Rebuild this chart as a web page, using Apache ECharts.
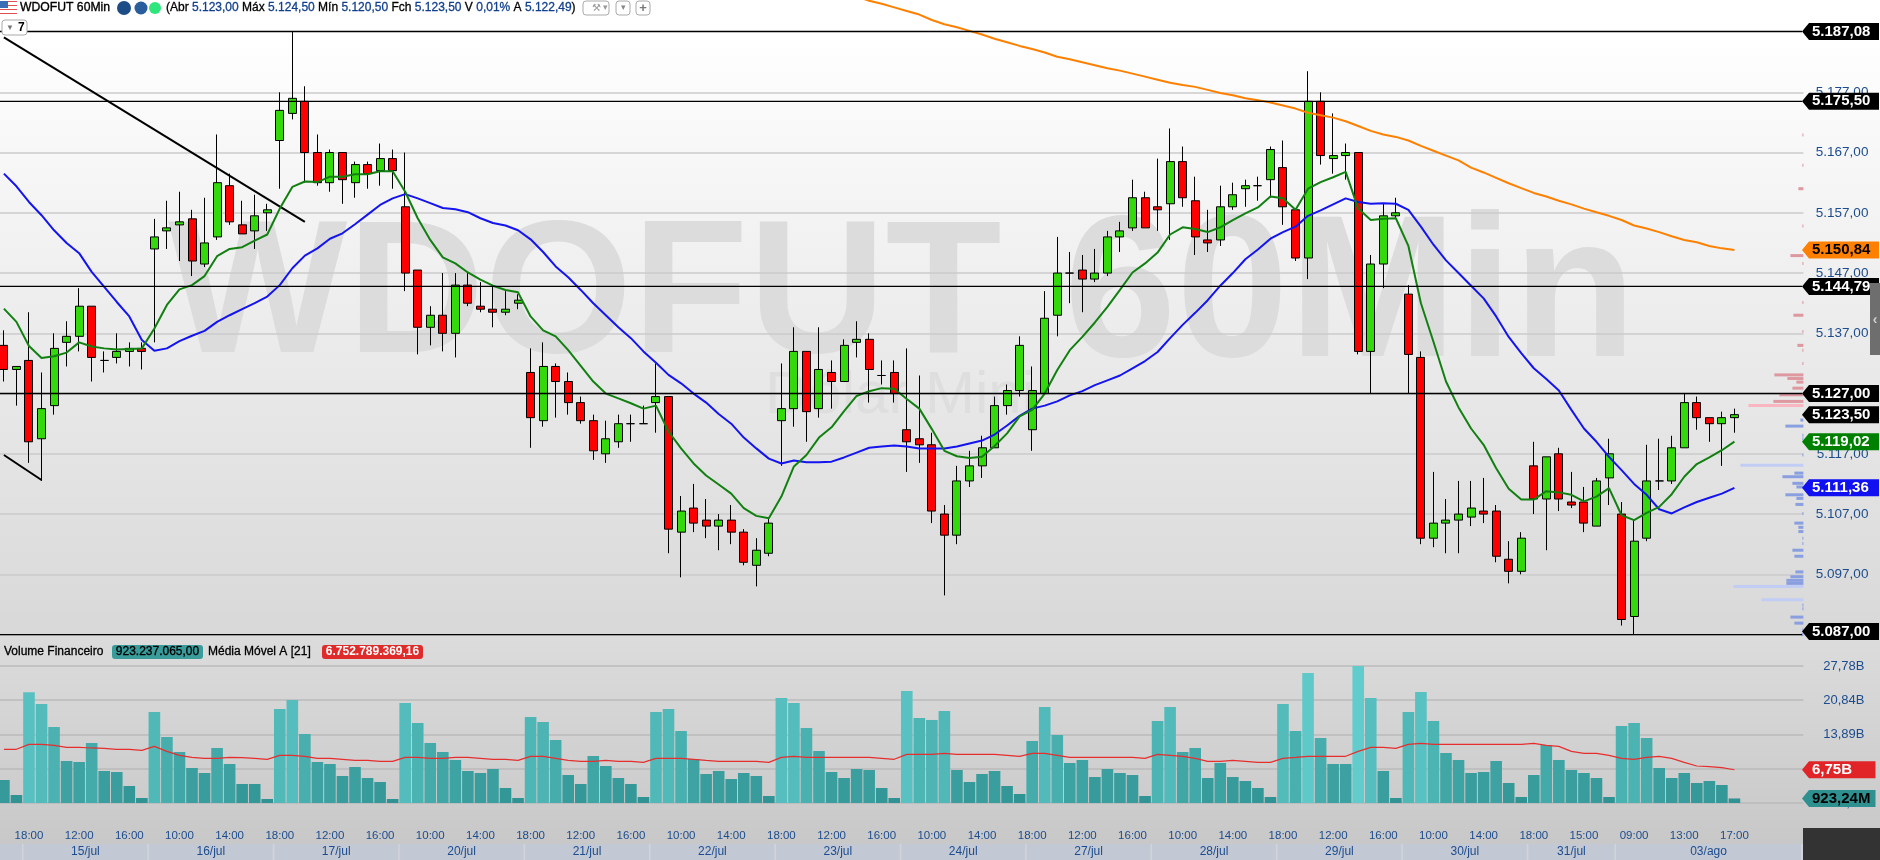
<!DOCTYPE html>
<html><head><meta charset="utf-8"><title>WDOFUT 60Min</title>
<style>html,body{margin:0;padding:0;background:#fff;overflow:hidden;width:1880px;height:860px}#c{position:absolute;left:-4px;top:0;width:1884px;height:860px}</style>
<script src="https://cdn.jsdelivr.net/npm/echarts@6/dist/echarts.min.js"></script></head>
<body><div id="c"></div><script>
const opens=[5135,5131,5132.5,5119.5,5125,5135.5,5136.5,5141.5,5132.5,5133,5134,5134.5,5151,5154,5155,5156,5148.5,5153,5161.5,5155,5154,5157,5169,5173.5,5175.5,5167,5162,5167,5162,5165,5164,5166,5158,5147.5,5138,5140,5137,5145,5141.5,5141,5140.5,5142,5130.5,5122.5,5131.5,5129,5125.5,5122.5,5117,5119,5122,5122,5125.5,5126.5,5104,5108,5106,5105,5106,5104,5098.5,5100.5,5122.5,5124.5,5134,5124.5,5130.5,5129,5135.5,5136,5130,5130.5,5121,5119.5,5118.5,5107,5103.5,5112.5,5115,5118,5125,5127.5,5121,5127,5140,5147,5147.5,5146,5147,5153,5154.5,5159.5,5158,5158.5,5165.5,5159,5152.5,5152.5,5158,5161,5161.5,5162.5,5164.5,5157.5,5149.5,5175.5,5166,5166.5,5167,5134,5148.5,5156.5,5143.5,5133,5103,5105.5,5106,5106.5,5107.5,5107.5,5099.5,5097.5,5115,5109.5,5117,5109,5109,5105,5113,5107,5090,5103,5112.5,5112.5,5118,5125.5,5123,5122,5123];
const closes=[5131,5131.5,5119,5124.5,5134.5,5136.5,5141.5,5133,5132.5,5134,5134.5,5134,5153,5154.5,5155.5,5149,5152,5162,5155.5,5153.5,5156.5,5157.5,5174,5176,5167,5162,5167,5162.5,5165,5163.5,5166,5164,5147,5138,5140,5137,5145,5142,5141,5140.5,5141,5142.5,5123,5131.5,5129,5125.5,5122.5,5117.5,5119.5,5122,5122,5122,5126.5,5104.5,5107.5,5105.5,5105,5106,5104,5099,5101,5105.5,5124.5,5134,5124,5131,5129,5135,5136,5131,5130,5127,5119,5118.5,5107.5,5103.5,5112.5,5115,5118,5125,5127.5,5135,5127.5,5139.5,5147,5147,5146,5147,5153,5154,5159.5,5154.5,5157.5,5165.5,5159.5,5153,5152,5158,5160,5161.5,5161.5,5167.5,5158,5149.5,5175.5,5166.5,5166.5,5167,5134,5148.5,5156.5,5157,5133.5,5103,5105.5,5106,5107,5108,5107,5100,5097.5,5103,5109.5,5116.5,5109.5,5108.5,5105.5,5112.5,5117,5089.5,5102.5,5112.5,5112.5,5118,5125.5,5123,5122,5123,5123.5];
const lows=[5129,5125,5115.5,5112.5,5123.5,5131.5,5134,5129,5130.5,5132,5131.5,5131,5135.5,5151,5149,5146.5,5148,5152.5,5155,5153.5,5151,5154,5161,5172.5,5162,5161.5,5160.5,5158.5,5159.5,5161,5161.5,5161,5144,5133.5,5135,5134,5133,5141.5,5140.5,5138,5140,5141,5118,5121.5,5123,5123.5,5122,5116,5115.5,5118,5119,5122,5120.5,5100.5,5096.5,5104,5103,5101,5102,5098.5,5095,5100,5115,5121.5,5119,5123,5124.5,5129,5133,5125.5,5128.5,5125.5,5114,5115.5,5105.5,5093.5,5102,5111.5,5113,5118,5123.5,5126.5,5117.5,5127,5136.5,5142,5140.5,5145.5,5146.5,5150.5,5154,5154.5,5154,5152.5,5158,5150,5150.5,5151.5,5157.5,5158,5159,5159.5,5155,5149,5146,5165,5163.5,5162.5,5133.5,5127,5144.5,5156,5127,5102,5101.5,5100.5,5100.5,5105,5105.5,5099,5095.5,5097,5107,5101,5107.5,5108,5104,5105,5108.5,5088.5,5087,5102.5,5111,5112,5118,5121,5119,5115,5120.5];
const highs=[5137.5,5131.5,5140.5,5130.5,5137,5139,5144.5,5141.5,5134,5137,5135.5,5135.5,5156,5159,5160.5,5157.5,5159.5,5170,5163.5,5159,5160,5158.5,5177,5187,5178,5170,5167.5,5167,5165.5,5165.5,5168.5,5167.5,5167,5147.5,5141.5,5147,5147,5147,5145.5,5145,5144,5143.5,5134.5,5135.5,5132,5130.5,5126.5,5123.5,5122.5,5123.5,5123.5,5125,5132,5126.5,5110,5112,5109.5,5107,5108.5,5104.5,5103,5106.5,5132,5138,5134,5138,5132.5,5136,5139,5137,5132.5,5132.5,5134.5,5130,5120.5,5108.5,5115,5117.5,5120,5126.5,5128.5,5136.5,5131.5,5144,5153,5150.5,5150,5151,5154,5155.5,5162.5,5160.5,5166,5171,5168,5163,5157.5,5161.5,5162,5162.5,5163,5168,5169,5157.5,5180.5,5177,5173.5,5168.5,5167,5150,5158.5,5159.5,5145,5134,5114,5109.5,5112.5,5112.5,5113,5108.5,5102.5,5104,5119,5116.5,5118,5114,5111.5,5113,5119.5,5109,5106,5118.5,5119.5,5120,5127,5126.5,5123,5124,5124.5];
const emaFast=[5141.1,5138.9,5134.9,5132.9,5133.2,5133.8,5135.5,5134.8,5134.5,5134.3,5134.4,5134.5,5137.8,5141.7,5144.3,5145,5146.5,5149.8,5151,5151.3,5152.4,5153.4,5157.7,5161.3,5162.2,5162.1,5163,5163,5163.4,5163.4,5163.9,5163.9,5160.5,5156.1,5152.5,5149.6,5148.6,5147.1,5145.9,5144.9,5144.2,5143.8,5139.8,5137.5,5136.5,5134.2,5131.6,5129,5127,5126.2,5125.4,5124.5,5125,5120.7,5117.9,5115.4,5113.4,5111.9,5110.4,5108,5106.7,5106.3,5109.9,5114.9,5116.8,5119.7,5121.4,5124.1,5126.6,5127.4,5127.9,5127.8,5126.1,5124.5,5121.1,5117.5,5116.6,5116.3,5116.5,5118.3,5120.4,5123.2,5124.3,5127,5130.9,5134.2,5136.4,5138.8,5141.4,5144.2,5147.1,5148.6,5150.4,5153.4,5154.6,5154.3,5153.8,5154.6,5155.8,5156.9,5157.9,5159.7,5159.4,5157.5,5161,5162.1,5162.9,5163.8,5157.7,5155.8,5156,5156.1,5151.5,5142,5135.6,5129,5124.7,5121.2,5118.5,5114.6,5111.2,5109.4,5109.4,5110.8,5110.6,5110.2,5109.1,5109.9,5111.3,5106.8,5106,5107.2,5108.2,5110.3,5113.2,5115.3,5116.4,5117.6,5119.02];
const emaMid=[5163.5,5161.4,5158.8,5156.6,5154.1,5152,5150.3,5147.2,5144.7,5142.2,5139.8,5135.9,5134.1,5134.5,5135.7,5136.6,5137.4,5138.9,5140,5141,5142,5143.1,5145,5147.8,5149.9,5151.1,5152.7,5153.6,5155.1,5156.7,5158.3,5159.4,5160.1,5159.4,5158.6,5157.8,5157.6,5157.1,5156.1,5155.3,5154.9,5154.1,5152.6,5150.5,5148.1,5146.3,5144.2,5142,5140,5138,5136.2,5134,5132.1,5130.1,5128.7,5127,5125.5,5123.6,5122,5119.7,5117.9,5116.2,5115.4,5115.9,5115.6,5115.6,5115.7,5116.4,5117.2,5118,5118.2,5118.4,5118.2,5117.9,5117.9,5117.9,5118.2,5118.7,5119.2,5120.2,5121.7,5123.3,5124.5,5125,5125.7,5126.7,5127.4,5128.4,5129.2,5130,5131.2,5132.4,5133.9,5136.2,5138.4,5140.4,5142.5,5144.9,5147,5149.3,5150.9,5152.7,5153.8,5154.7,5156.5,5157.4,5158.4,5159.4,5158.8,5158.5,5158.6,5158.5,5157.5,5154.7,5151.7,5149.1,5147,5144.9,5142.8,5139.8,5136.4,5133.7,5131.2,5129.4,5127.5,5124.3,5121.2,5119,5116.5,5114.3,5112,5110.2,5107.8,5107.1,5108.1,5109,5109.7,5110.4,5111.36];
const emaSlowStart=68;
const emaSlow=[5192.9,5192.2,5191.7,5191.1,5190.5,5189.9,5189,5188.3,5187.8,5187.2,5186.6,5185.9,5185.3,5184.7,5184.2,5183.6,5182.9,5182.5,5182,5181.5,5181,5180.6,5180.1,5179.6,5179.1,5178.6,5178.2,5177.9,5177.4,5176.9,5176.5,5176,5175.7,5175.3,5174.8,5174.3,5173.6,5173.2,5172.8,5172.2,5171.4,5170.6,5170,5169.6,5169,5168.1,5167.3,5166.5,5165.7,5164.5,5163.7,5162.8,5161.9,5161.1,5160.3,5159.7,5159,5158.4,5157.7,5157.1,5156.5,5155.8,5154.9,5154.4,5153.8,5153.1,5152.5,5152.1,5151.5,5151.1,5150.84];
const volumes=[4.67,1.62,22.45,20.08,15.42,8.52,8.32,12.17,6.49,6.29,3.45,1.01,18.46,13.39,10.34,7.1,6.09,11.16,7.91,3.85,3.85,.81,19.07,20.89,14,8.32,7.91,5.48,7.3,5.07,4.26,.81,20.28,16.23,12.17,10.34,8.72,6.49,6.09,6.9,3.04,1.01,17.44,16.43,12.78,5.68,3.85,9.53,7.51,5.07,3.85,1.22,18.46,19.07,14.6,8.92,5.88,6.49,4.87,6.09,5.48,1.42,21.3,20.28,15.21,10.55,6.29,5.07,6.9,6.69,3.04,1.01,22.72,17.24,16.84,18.66,6.69,4.26,5.88,6.49,3.45,1.83,12.58,19.47,13.79,8.11,8.72,5.27,6.9,6.09,5.68,1.42,16.63,19.47,10.34,11.16,5.07,8.11,5.27,4.46,3.04,1.22,20.08,14.6,26.37,13.18,7.91,7.91,27.79,21.3,6.49,1.01,18.46,22.52,16.63,10.14,8.72,6.09,6.29,8.52,4.06,1.22,5.68,11.76,8.72,6.69,6.09,5.07,1.22,15.62,16.23,13.18,7.1,5.07,6.09,4.06,4.46,3.65,.92];
const volumeMA=[10.89,10.89,11.9,11.9,11.7,11.29,11.29,11.16,11.09,10.89,10.89,10.68,11.49,10.48,9.67,9.26,9.06,9.06,9.26,9.2,9.06,8.86,9.67,9.67,9.47,9.06,9.06,8.86,8.65,8.65,8.45,8.45,9.26,9.26,9.06,9.06,9.26,9.26,9.06,8.86,8.86,8.65,9.47,9.47,9.06,8.65,8.45,8.45,8.65,8.45,8.45,8.25,9.06,9.06,9.06,8.86,8.65,8.45,8.45,8.45,8.45,8.25,9.26,9.47,9.26,9.26,9.26,9.26,9.26,9.26,9.06,8.86,9.87,9.87,9.87,10.07,9.87,9.87,9.87,9.87,9.67,9.47,10.07,10.07,9.67,9.26,9.26,9.26,9.26,9.26,9.26,9.06,9.87,9.67,9.47,9.06,8.45,8.45,8.65,8.45,8.25,8.25,9.06,9.26,9.47,9.47,9.47,9.47,10.48,11.29,11.29,11.09,11.9,12.1,11.9,11.9,11.9,11.9,11.9,11.9,11.9,11.9,12.1,11.7,11.49,10.48,10.07,10.07,9.67,9.06,8.86,9.26,9.47,9.06,8.25,7.5,7.37,7.17,6.75];
const timeLabels=['18:00','12:00','16:00','10:00','14:00','18:00','12:00','16:00','10:00','14:00','18:00','12:00','16:00','10:00','14:00','18:00','12:00','16:00','10:00','14:00','18:00','12:00','16:00','10:00','14:00','18:00','12:00','16:00','10:00','14:00','18:00','15:00','09:00','13:00','17:00'];
const dayStarts=[0,2,12,22,32,42,52,62,72,82,92,102,112,122,129];
const dayBars=[2,10,10,10,10,10,10,10,10,10,10,10,10,7,15];
const dayLabels=['','15/jul','16/jul','17/jul','20/jul','21/jul','22/jul','23/jul','24/jul','27/jul','28/jul','29/jul','30/jul','31/jul','03/ago'];
const priceTicks=[5177,5167,5157,5147,5137,5127,5117,5107,5097,5087];
const volumeTicks=[27.78,20.84,13.89,6.945,0];
const levels=[5187.08,5175.5,5144.79,5127,5087];
const priceTags=[5187.08,5175.5,5150.84,5144.79,5127,5123.5,5119.02,5111.36,5087];
const priceTagColors=['#000','#000','#ff8000','#000','#000','#000','#008000','#1010f0','#000'];
const priceTagText=['#fff','#fff','#000','#fff','#fff','#fff','#fff','#fff','#fff'];
const volumeTags=[6.75,.92324];
const volumeTagLabels=['6,75B','923,24M'];
const volumeTagColors=['#e02428','#2f9090'];
const volumeTagText=['#fff','#000'];
const trendA=[[0,5186.1],[24,5155.5]];
const trendB=[[0,5116.8],[3,5112.65]];
const profilePrice=[5169.9,5164.9,5161,5154.8,5149.9,5148.6,5142.1,5140,5137.3,5135,5134.2,5132,5130.1,5129.5,5128.9,5127.9,5126.8,5125.7,5125,5122.6,5121.6,5120.1,5119.5,5116.8,5115.1,5113.8,5113.2,5112.1,5111.5,5110.2,5109.6,5108.6,5107.1,5105.5,5104.8,5104.1,5103,5102.1,5101,5100,5097.4,5096.6,5096,5095.5,5095,5092.8,5091.9,5091.3,5089.9,5088.9,5087.8,5087];
const profileVolume=[1,1,5,1,13,1,1,10,1,6,1,1,29,16,7,11,24,30,55,3,18,1,1,1,63,9,21,11,7,18,7,8,1,9,5,5,1,1,11,9,8,13,17,17,70,42,1,1,13,9,1,2];

const fmtPrice=v=>{const s=v.toFixed(2).replace('.',',');return s.slice(0,1)+'.'+s.slice(1);};
const DX=4,BAND=12.54,N=144,GL=1.63,BLUE='#1c4c8e',FF='"Liberation Sans",Arial,sans-serif';
const cats=Array.from({length:N},(_,i)=>(i>=2&&i<=138&&(i-2)%4===0)?timeLabels[(i-2)/4]:'');
const candles=opens.map((o,i)=>[o,closes[i],lows[i],highs[i]]);
const mix=v=>{const t=Math.min(1,v/27.78),a=[46,144,144],b=[98,204,204];return 'rgb('+a.map((x,k)=>Math.round(x+(b[k]-x)*t)).join(',')+')';};
const lineS=(name,data,color,w,xi,yi,z)=>({name,type:'line',xAxisIndex:xi,yAxisIndex:yi,data,showSymbol:false,symbol:'none',z,silent:true,lineStyle:{color,width:w}});
const tag=(y,txt,bg,fg,right)=>({type:'group',x:DX,children:[
 {type:'polygon',shape:{points:[[1802,y],[1809,y-8.5],[right,y-8.5],[right,y+8.5],[1809,y+8.5]]},style:{fill:bg}},
 {type:'text',style:{x:1812,y,text:txt,fill:fg,font:'bold 15px '+FF,verticalAlign:'middle',align:'left'}}]});

const R=(x,y,w,h,fill,z,extra)=>Object.assign({type:'rect',shape:{x,y,width:w,height:h},style:{fill},z,silent:true},extra||{});
const grad=(a,b)=>({type:'linear',x:0,y:0,x2:0,y2:1,colorStops:[{offset:0,color:a},{offset:1,color:b}]});
const T=(x,y,text,font,fill,z,align,heavy)=>({type:'text',x,y,z,silent:true,style:Object.assign({text,font,fill,align:align||'left',verticalAlign:'middle'},heavy?{stroke:fill,lineWidth:heavy}:{})});
const stripes=[];for(let k=0;k<7;k++)stripes.push(R(0,1+k*2,17,1,k%2?'#fff':'#e05050',9));
const btn=(x,y,w,h)=>({type:'rect',shape:{x,y,width:w,height:h,r:3},z:9,silent:true,style:{fill:'#fff',stroke:'#aaaaaa',lineWidth:1}});

const elements=[
 R(0,0,1880,33,'#ffffff',-10),
 R(0,33,1880,603,grad('#ffffff','#d8d8d8'),-10),
 R(0,636,1880,208,grad('#dcdcdc','#c8c8c8'),-10),
 R(0,844,1880,16,'#d2d4da',-10),
 T(168,300,'WDOFUT','bold 190px '+FF,'#dcdcdc',-5),
 T(1064,300,'60Min','bold 202px '+FF,'#dcdcdc',-5),
 T(765,396,'Dólar Mini','60px '+FF,'#dedede',-5),
 ...stripes,
 R(0,1,8,7,'#3b6fb5',9),
 T(20,8,'WDOFUT 60Min','12.2px '+FF,'#000',9,'left',0.35),
 {type:'circle',shape:{cx:124,cy:8,r:7},style:{fill:'#1d4c86'},z:9,silent:true},
 {type:'circle',shape:{cx:141,cy:8,r:6.5},style:{fill:'#2a5d9c'},z:9,silent:true},
 {type:'circle',shape:{cx:155,cy:8,r:6},style:{fill:'#2ee67e'},z:9,silent:true},
 {type:'text',x:166,y:8,z:9,silent:true,style:{verticalAlign:'middle',font:'12px '+FF,rich:{k:{fill:'#000',stroke:'#000',lineWidth:0.3,font:'12px '+FF},v:{fill:'#123f8c',stroke:'#123f8c',lineWidth:0.3,font:'12px '+FF}},
  text:'{k|(Abr }{v|5.123,00}{k| Máx }{v|5.124,50}{k| Mín }{v|5.120,50}{k| Fch }{v|5.123,50}{k| V }{v|0,01%}{k| A }{v|5.122,49}{k|)}'}},
 btn(583,1,26,14),T(592,8,'⚒','10px '+FF,'#999',10),T(603,8,'▾','9px '+FF,'#999',10),
 btn(616,1,14,14),T(623,8,'▾','9px '+FF,'#888',10,'center'),
 btn(636,1,14,14),T(643,8,'+','bold 13px '+FF,'#777',10,'center'),
 btn(2,20,25,15),T(6,28,'▼','8px '+FF,'#777',10),T(18,28,'7','bold 12px '+FF,'#000',10),
 T(4,652,'Volume Financeiro','12px '+FF,'#000',9,'left',0.3),
 {type:'rect',shape:{x:112,y:645,width:91,height:14,r:3},style:{fill:'#3a9b9b'},z:9,silent:true},
 T(157.5,652,'923.237.065,00','12px '+FF,'#000',10,'center',0.3),
 T(208,652,'Média Móvel A [21]','12px '+FF,'#000',9,'left',0.3),
 {type:'rect',shape:{x:322,y:645,width:101,height:14,r:3},style:{fill:'#e02b2b'},z:9,silent:true},
 T(372.5,652,'6.752.789.369,16','bold 12px '+FF,'#fff',10,'center'),
 R(1803,828,77,32,'#333333',9),
 R(1870,283,10,72,'#6e6e6e',9),
 T(1875,320,'‹','bold 14px '+FF,'#cfcfcf',10,'center')
];
elements.forEach(e=>{e.x=(e.x||0)+DX;});

const option={animation:false,backgroundColor:'transparent',
 graphic:{elements},
 grid:[{left:GL,top:0,width:N*BAND,height:635.3},{left:GL,top:636,width:N*BAND,height:167}],
 xAxis:[
  {type:'category',gridIndex:0,data:cats,axisLine:{show:false},axisTick:{show:false},axisLabel:{show:false},splitLine:{show:false}},
  {type:'category',gridIndex:1,data:cats,axisLine:{show:false},axisTick:{show:false},splitLine:{show:false},
   axisLabel:{show:true,interval:0,margin:27,hideOverlap:false,color:BLUE,fontSize:11.5,fontFamily:FF}},
  {type:'value',gridIndex:0,show:false,inverse:true,min:0,max:N*BAND,splitLine:{show:false}}
 ],
 yAxis:[
  {type:'value',gridIndex:0,position:'right',min:5086.88,max:5192.32,axisLine:{show:false},
   axisTick:{show:false,customValues:priceTicks},
   splitLine:{show:true,lineStyle:{color:'#cbcbcb',width:1.5}},
   axisLabel:{show:true,customValues:priceTicks,align:'right',margin:65,color:BLUE,fontSize:13.5,fontFamily:FF,formatter:v=>fmtPrice(v)}},
  {type:'value',gridIndex:1,position:'right',min:0,max:33.87,axisLine:{show:false},
   axisTick:{show:false,customValues:volumeTicks},
   splitLine:{show:true,lineStyle:{color:'#bababa',width:1.5}},
   axisLabel:{show:true,customValues:volumeTicks,align:'right',margin:61,color:BLUE,fontSize:13,fontFamily:FF,formatter:v=>v===0?'0,00':(v===6.945?'6,95B':v.toFixed(2).replace('.',',')+'B')}}
 ],
 series:[
  {type:'custom',name:'profile',coordinateSystem:'cartesian2d',xAxisIndex:2,yAxisIndex:0,z:1,silent:true,clip:false,
   data:profilePrice.map((p,i)=>[profileVolume[i],p]),
   renderItem:(ps,api)=>{const v=api.value(0),p=api.value(1),a=api.coord([0,p]),b=api.coord([v,p]);
     const up=p>=5124.8,light=v>40;
     return {type:'rect',shape:{x:b[0],y:a[1]-1.5,width:a[0]-b[0],height:3},style:{fill:up?(light?'#f9b6c0':'#dd98a0'):(light?'#c2cdf6':'#8a9fe0')}};},
   encode:{x:0,y:1}},
  {type:'candlestick',name:'WDOFUT',xAxisIndex:0,yAxisIndex:0,data:candles,barWidth:8.5,z:3,silent:true,
   itemStyle:{color:'#33d90b',color0:'#ff0000',borderColor:'#000',borderColor0:'#000',borderColorDoji:'#000',borderWidth:1}},
  lineS('trendA',trendA,'#000',2,0,0,4),
  lineS('trendB',trendB,'#000',2,0,0,4),
  lineS('emaSlow',emaSlow.map((v,i)=>[i+emaSlowStart,v]),'#ff8000',2,0,0,5),
  lineS('emaMid',emaMid,'#1414f0',2,0,0,5),
  lineS('emaFast',emaFast,'#118011',2,0,0,6),
  {type:'custom',name:'levels',coordinateSystem:'cartesian2d',xAxisIndex:0,yAxisIndex:0,z:7,silent:true,clip:false,
   data:levels.map(v=>[0,v]),encode:{x:0,y:1},
   renderItem:(ps,api)=>{const y=api.coord([0,api.value(1)])[1];
     return {type:'line',shape:{x1:0,y1:y,x2:1802+DX,y2:y},style:{stroke:'#000',lineWidth:1.4}};}},
  {type:'custom',name:'priceTags',coordinateSystem:'cartesian2d',xAxisIndex:0,yAxisIndex:0,z:8,silent:true,clip:false,
   data:priceTags.map(v=>[0,v]),encode:{x:0,y:1},
   renderItem:(ps,api)=>{const i=ps.dataIndex,v=api.value(1);let y=api.coord([0,v])[1];if(v===5087)y-=3;
     return tag(y,fmtPrice(v),priceTagColors[i],priceTagText[i],1879);}},
  {type:'bar',name:'Volume Financeiro',xAxisIndex:1,yAxisIndex:1,barWidth:11.6,z:3,silent:true,
   data:volumes.map(v=>({value:v,itemStyle:{color:mix(v)}}))},
  lineS('Média Móvel A',volumeMA,'#e62e2e',1.2,1,1,5),
  {type:'custom',name:'volumeTags',coordinateSystem:'cartesian2d',xAxisIndex:1,yAxisIndex:1,z:8,silent:true,clip:false,
   data:volumeTags.map(v=>[0,v]),encode:{x:0,y:1},
   renderItem:(ps,api)=>{const i=ps.dataIndex,y=api.coord([0,api.value(1)])[1];
     return tag(y,volumeTagLabels[i],volumeTagColors[i],volumeTagText[i],1875.5);}},
  {type:'custom',name:'days',coordinateSystem:'cartesian2d',xAxisIndex:1,yAxisIndex:1,z:8,silent:true,clip:false,
   data:dayStarts.map((s,i)=>[s,dayBars[i]]),encode:{x:0},
   renderItem:(ps,api)=>{const i=ps.dataIndex,s=api.value(0),n=api.value(1),x0=Math.max(DX,api.coord([s,0])[0]-BAND/2+0.8),x1=Math.min(1801+DX,api.coord([s,0])[0]-BAND/2+n*BAND-0.8);
     return {type:'group',children:[
       {type:'rect',shape:{x:x0,y:844,width:x1-x0,height:16},style:{fill:'#c2c8d4'}},
       {type:'text',style:{x:(x0+x1)/2,y:852,text:dayLabels[i],fill:BLUE,font:'12px '+FF,align:'center',verticalAlign:'middle'}}]};}}
 ]};
const chart=echarts.init(document.getElementById('c'),null,{renderer:'canvas',width:1884,height:860});
chart.setOption(option);
</script></body></html>
